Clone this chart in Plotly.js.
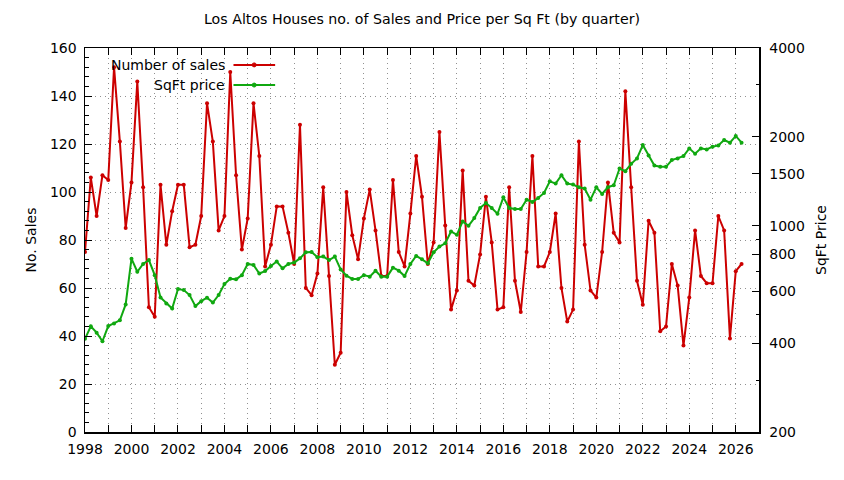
<!DOCTYPE html>
<html>
<head>
<meta charset="utf-8">
<script src="https://cdn.plot.ly/plotly-3.0.1.min.js"></script>
<style>
    body { margin: 0; background: #fff; }
    #plot { width: 844px; height: 480px; }
</style>
</head>
<body>
<div id="plot"></div>
<script>
var firstYear = 1998;

// number of sales per quarter, 1998 Q1 .. 2026 Q2
var sales = [
    75, 106, 90, 107,
    105, 152, 121, 85,
    104, 146, 102, 52,
    48, 103, 78, 92,
    103, 103, 77, 78,
    90, 137, 121, 84,
    90, 150, 107, 76,
    89, 137, 115, 69,
    78, 94, 94, 83,
    70, 128, 60, 57,
    66, 102, 65, 28,
    33, 100, 82, 72,
    89, 101, 84, 65,
    65, 105, 75, 69,
    91, 115, 98, 70,
    79, 125, 86, 51,
    59, 109, 63, 61,
    74, 98, 79, 51,
    52, 102, 63, 50,
    75, 115, 69, 69,
    75, 91, 60, 46,
    51, 121, 78, 59,
    56, 75, 104, 83,
    79, 142, 102, 63,
    53, 88, 83, 42,
    44, 70, 61, 36,
    56, 84, 65, 62,
    62, 90, 84, 39,
    67, 70
];

// price per sq ft per quarter
var sqftPrice = [
    414, 456, 434, 406,
    457, 466, 478, 541,
    773, 698, 742, 765,
    680, 571, 545, 524,
    610, 605, 582, 534,
    555, 570, 549, 582,
    634, 661, 658, 680,
    742, 736, 689, 702,
    730, 756, 717, 742,
    750, 775, 813, 815,
    782, 786, 765, 786,
    711, 677, 660, 660,
    680, 672, 704, 672,
    672, 721, 704, 675,
    742, 790, 769, 746,
    813, 850, 872, 956,
    931, 1034, 999, 1061,
    1148, 1194, 1148, 1098,
    1248, 1148, 1139, 1139,
    1225, 1203, 1242, 1291,
    1414, 1389, 1483, 1389,
    1378, 1350, 1336, 1225,
    1350, 1281, 1350, 1371,
    1562, 1530, 1620, 1690,
    1876, 1730, 1599, 1583,
    1583, 1668, 1690, 1721,
    1828, 1753, 1828, 1813,
    1852, 1871, 1951, 1911,
    2014, 1911
];

var yearTicks = [1998, 1999, 2000, 2001, 2002, 2003, 2004, 2005, 2006, 2007, 2008, 2009, 2010, 2011, 2012,
    2013, 2014, 2015, 2016, 2017, 2018, 2019, 2020, 2021, 2022, 2023, 2024, 2025, 2026, 2027];
var yearLabels = yearTicks.map(function (y) { return y % 2 == 0 ? String(y) : ''; });

var priceTicks = [200, 400, 600, 800, 1000, 1500, 2000, 4000];
var priceMinorTicks = [300, 500, 700, 900, 3000];

var redColor = '#cc0000';
var greenColor = '#10a810';
var fontName = 'DejaVu Sans, sans-serif';
var gridDots = '1px,4px';

function runPlot() {
    var plotdiv = document.querySelector('#plot');

    // quarter positions on the year axis
    var quarters = [];
    for (var i = 0; i < sales.length; i++) {
        quarters.push(firstYear + i / 4);
    }

    var salesTrace = {
        x: quarters,
        y: sales,
        mode: 'lines+markers',
        type: 'scatter',
        name: 'Number of sales',
        line: { color: redColor, width: 2 },
        marker: { color: redColor, size: 4 },
        yaxis: 'y',
        hoverinfo: 'x+y',
    };

    var priceTrace = {
        x: quarters,
        y: sqftPrice,
        mode: 'lines+markers',
        type: 'scatter',
        name: 'SqFt price',
        line: { color: greenColor, width: 2 },
        marker: { color: greenColor, size: 4 },
        yaxis: 'y2',
        hoverinfo: 'x+y',
    };

    // gnuplot style key: text on the left, sample on the right
    var legendItems = [
        { text: 'Number of sales', color: redColor, y: 0.956 },
        { text: 'SqFt price', color: greenColor, y: 0.9035 },
    ];
    var annotations = [];
    var shapes = [];
    legendItems.forEach(function (item) {
        annotations.push({
            xref: 'paper', yref: 'paper', x: 0.211, y: item.y,
            xanchor: 'right', yanchor: 'middle', showarrow: false,
            text: item.text, font: { family: fontName, size: 14, color: '#000' },
        });
        shapes.push({
            type: 'line', xref: 'paper', yref: 'paper',
            x0: 0.2203, x1: 0.2821, y0: item.y, y1: item.y,
            line: { color: item.color, width: 2 },
        });
        shapes.push({
            type: 'circle', xref: 'paper', yref: 'paper',
            xsizemode: 'pixel', ysizemode: 'pixel', xanchor: 0.251, yanchor: item.y,
            x0: -2, x1: 2, y0: -2, y1: 2,
            fillcolor: item.color, line: { color: item.color, width: 1 },
        });
    });

    var layout = {
        width: 844,
        height: 480,
        margin: { l: 85, r: 85, t: 48, b: 48 },
        paper_bgcolor: '#fff',
        plot_bgcolor: '#fff',
        showlegend: false,
        font: { family: fontName, size: 14, color: '#000' },
        title: {
            text: 'Los Altos Houses no. of Sales and Price per Sq Ft (by quarter)',
            xref: 'container', x: 0.5, xanchor: 'center',
            yref: 'container', y: 0.96, yanchor: 'middle',
            font: { family: fontName, size: 14.2, color: '#000' },
        },
        xaxis: {
            range: [1998, 2027],
            tickmode: 'array',
            tickvals: yearTicks,
            ticktext: yearLabels,
            ticks: 'inside',
            ticklen: 7,
            tickcolor: '#000',
            ticklabelstandoff: 4,
            showline: true,
            linecolor: '#000',
            linewidth: 1.5,
            mirror: 'ticks',
            showgrid: true,
            gridcolor: '#909090',
            griddash: gridDots,
            gridwidth: 1,
            zeroline: false,
            fixedrange: true,
        },
        yaxis: {
            range: [0, 160],
            dtick: 20,
            ticks: 'inside',
            ticklen: 7,
            tickcolor: '#000',
            ticklabelstandoff: 4,
            minor: { dtick: 4, ticks: 'inside', ticklen: 3.5, tickcolor: '#000', showgrid: false },
            showline: true,
            linecolor: '#000',
            linewidth: 1.5,
            showgrid: true,
            gridcolor: '#909090',
            griddash: gridDots,
            gridwidth: 1,
            zeroline: false,
            title: { text: 'No. Sales', standoff: 10, font: { family: fontName, size: 14 } },
            fixedrange: true,
        },
        yaxis2: {
            type: 'log',
            overlaying: 'y',
            side: 'right',
            range: [Math.log10(200), Math.log10(4000)],
            tickmode: 'array',
            tickvals: priceTicks,
            ticktext: priceTicks.map(String),
            ticks: 'inside',
            ticklen: 7,
            tickcolor: '#000',
            ticklabelstandoff: 6,
            minor: { tickmode: 'array', tickvals: priceMinorTicks, ticks: 'inside', ticklen: 3.5, tickcolor: '#000', showgrid: false },
            showline: true,
            linecolor: '#000',
            linewidth: 1.5,
            showgrid: false,
            zeroline: false,
            title: { text: 'SqFt Price', standoff: 12, font: { family: fontName, size: 14 } },
            fixedrange: true,
        },
        annotations: annotations,
        shapes: shapes,
    };

    var config = { displayModeBar: false, staticPlot: true };

    Plotly.newPlot(plotdiv, [salesTrace, priceTrace], layout, config);
}

runPlot();
</script>
</body>
</html>
